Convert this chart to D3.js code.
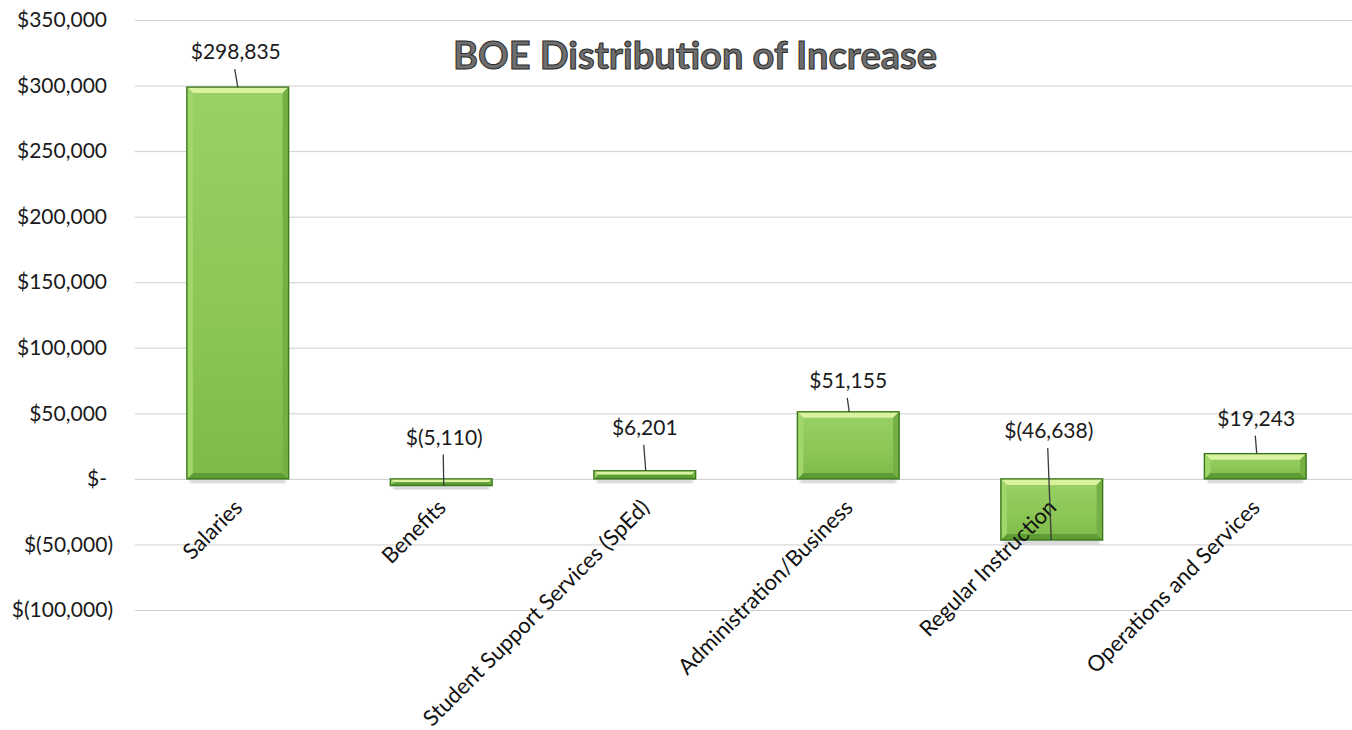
<!DOCTYPE html>
<html>
<head>
<meta charset="utf-8">
<script src="https://cdn.jsdelivr.net/npm/d3@7"></script>
<style>
  html, body { margin: 0; padding: 0; background: #fff; }
  svg { display: block; font-family: Lato, "Open Sans", sans-serif; }
</style>
</head>
<body>
<div id="chart"></div>
<script>
// BOE Distribution of Increase - bar chart

// Data
const categories = [
    'Salaries',
    'Benefits',
    'Student Support Services (SpEd)',
    'Administration/Business',
    'Regular Instruction',
    'Operations and Services'
];
const increase = [298835, -5110, 6201, 51155, -46638, 19243];
const yTicks = [350000, 300000, 250000, 200000, 150000, 100000, 50000, 0, -50000, -100000];

// Data label placement (px, relative to the bar's value end)
const labelDx = [-2, 3, 0, 0, -3, 1];
const labelDy = [-35, -48, -43, -31, -109, -35];

const width = 1352, height = 730;
const plot = { left: 135, right: 1352, top: 20, bottom: 610 };

const svg = d3.select('#chart')
    .append('svg')
    .attr('width', width)
    .attr('height', height)
    .style('background', '#fff');

const y = d3.scaleLinear()
    .domain([-100000, 350000])
    .range([plot.bottom, plot.top]);

const x = d3.scaleBand()
    .domain(categories)
    .range([136, 1357])
    .paddingInner(0.5)
    .paddingOuter(0.25);

// Accounting style money format
const num = d3.format(',');
function money(v) {
    if (v === 0) return '$-';
    if (v < 0) return '$(' + num(-v) + ')';
    return '$' + num(v);
}

// Gradient + shadow blur
const defs = svg.append('defs');
const grad = defs.append('linearGradient')
    .attr('id', 'barFill')
    .attr('x1', 0).attr('y1', 0).attr('x2', 0).attr('y2', 1);
grad.append('stop').attr('offset', '0%').attr('stop-color', '#9ad166');
grad.append('stop').attr('offset', '55%').attr('stop-color', '#8cc757');
grad.append('stop').attr('offset', '100%').attr('stop-color', '#7eba4a');

defs.append('filter').attr('id', 'soft')
    .append('feGaussianBlur').attr('stdDeviation', 1.2);

// Y axis with gridlines
const yAxis = svg.append('g')
    .attr('transform', `translate(${plot.left},0)`)
    .call(d3.axisLeft(y)
        .tickValues(yTicks)
        .tickSize(-(plot.right - plot.left))
        .tickPadding(22)
        .tickFormat(money));

yAxis.select('.domain').remove();
yAxis.selectAll('.tick line')
    .attr('stroke', '#cfcfcf')
    .attr('stroke-width', 1);
yAxis.selectAll('.tick text')
    .attr('fill', '#1a1a1a')
    .attr('font-size', 21)
    .attr('font-family', 'Lato, "Open Sans", sans-serif')
    .attr('dx', d => d < 0 ? 0 : -6);

// Bars
const bars = svg.append('g')
    .selectAll('g')
    .data(categories.map((c, i) => ({ name: c, value: increase[i], i })))
    .enter().append('g');

bars.each(function(d) {
    const g = d3.select(this);
    const x0 = x(d.name), x1 = x0 + x.bandwidth();
    const y0 = y(Math.max(0, d.value)), y1 = y(Math.min(0, d.value));
    const b = Math.min(6, (y1 - y0) / 2);

    // faint shadow under the bar
    g.append('rect')
        .attr('x', x0 + 3).attr('y', y1 + 1)
        .attr('width', x1 - x0 - 6).attr('height', 3)
        .attr('fill', '#b8b8c0')
        .attr('opacity', 0.7)
        .attr('filter', 'url(#soft)');

    g.append('rect')
        .attr('x', x0).attr('y', y0)
        .attr('width', x1 - x0).attr('height', y1 - y0)
        .attr('fill', 'url(#barFill)');

    // bevel edges
    const facets = [
        { pts: [[x0, y0], [x1, y0], [x1 - b, y0 + b], [x0 + b, y0 + b]], c: '#d8f2a0' },
        { pts: [[x0, y1], [x1, y1], [x1 - b, y1 - b], [x0 + b, y1 - b]], c: '#5e9c34' },
        { pts: [[x0, y0], [x0 + b, y0 + b], [x0 + b, y1 - b], [x0, y1]], c: '#a0d66c' },
        { pts: [[x1, y0], [x1 - b, y0 + b], [x1 - b, y1 - b], [x1, y1]], c: '#74b044' }
    ];
    g.selectAll('polygon')
        .data(facets)
        .enter().append('polygon')
        .attr('points', f => f.pts.map(p => p.join(',')).join(' '))
        .attr('fill', f => f.c);

    g.append('rect')
        .attr('x', x0).attr('y', y0)
        .attr('width', x1 - x0).attr('height', y1 - y0)
        .attr('fill', 'none')
        .attr('stroke', '#3a781c')
        .attr('stroke-width', 1.4);
});

// Category labels, rotated
svg.append('g')
    .selectAll('text')
    .data(categories)
    .enter().append('text')
    .attr('transform', d => `translate(${x(d) + x.bandwidth() / 2 + 6},${y(0) + 30}) rotate(-45)`)
    .attr('text-anchor', 'end')
    .attr('font-size', 22)
    .attr('fill', '#111')
    .text(d => d);

// Data labels with leader lines
const labels = svg.append('g')
    .selectAll('g')
    .data(categories.map((c, i) => ({ name: c, value: increase[i], i })))
    .enter().append('g');

labels.append('line')
    .attr('x1', d => x(d.name) + x.bandwidth() / 2 + labelDx[d.i] - 1)
    .attr('y1', d => y(d.value) + labelDy[d.i] + 17)
    .attr('x2', d => x(d.name) + x.bandwidth() / 2 + labelDx[d.i] / 2 + 1)
    .attr('y2', d => y(d.value))
    .attr('stroke', '#3a3a3a')
    .attr('stroke-width', 1.3);

labels.append('text')
    .attr('x', d => x(d.name) + x.bandwidth() / 2 + labelDx[d.i])
    .attr('y', d => y(d.value) + labelDy[d.i])
    .attr('dy', '0.35em')
    .attr('text-anchor', 'middle')
    .attr('font-size', 21)
    .attr('fill', '#1a1a1a')
    .text(d => money(d.value));

// Title
svg.append('text')
    .attr('x', 695)
    .attr('y', 69)
    .attr('text-anchor', 'middle')
    .attr('font-size', 38)
    .attr('font-weight', 'bold')
    .attr('fill', '#6e6e6e')
    .attr('stroke', '#2a2a2a')
    .attr('stroke-width', 1)
    .text('BOE Distribution of Increase');
</script>
</body>
</html>
